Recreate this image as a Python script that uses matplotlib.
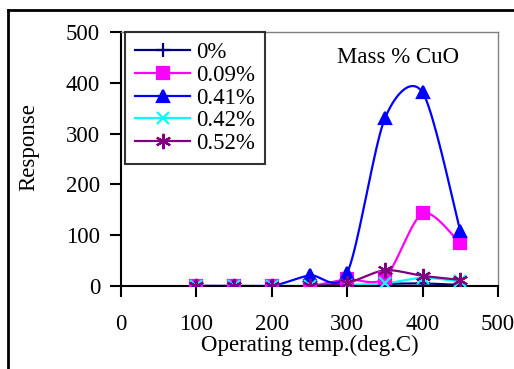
import numpy as np
import matplotlib
matplotlib.use("Agg")
import matplotlib.pyplot as plt
from matplotlib.lines import Line2D

# ── data ─────────────────────────────────────────────────
temps = [100, 150, 200, 250, 300, 350, 400, 450]
labels = ["0%", "0.09%", "0.41%", "0.42%", "0.52%"]
resp_0 = [0, 0, 0, 0, 0, 4, 5, 2]
resp_009 = [0, 0, 0, 0, 13, 16, 143, 84]
resp_041 = [0, 0, 0, 21, 26, 330, 381, 108]
resp_042 = [0, 0, 0, 0, 2, 5, 16, 9]
resp_052 = [0, 0, 0, 0, 6, 31, 20, 12]

series = [resp_0, resp_009, resp_041, resp_042, resp_052]
colors = ["#000080", "#FF00FF", "#0000FF", "#00FFFF", "#800080"]
markers = ["+", "s", "^", "x", (6, 2, 0)]
msizes = [10, 9, 9, 9, 11]


def smooth(x, y, n=20, k=7.0):
    # Excel-style smoothed line (Bezier through the points)
    x = np.asarray(x, float)
    y = np.asarray(y, float)
    px = np.concatenate([[x[0]], x, [x[-1]]])
    py = np.concatenate([[y[0]], y, [y[-1]]])
    xs, ys = [], []
    t = np.linspace(0, 1, n, endpoint=False)
    for i in range(1, len(px) - 2):
        p0, p1, p2, p3 = [np.array([px[j], py[j]]) for j in range(i - 1, i + 3)]
        c1 = p1 + (p2 - p0) / k
        c2 = p2 - (p3 - p1) / k
        b = ((1 - t) ** 3)[:, None] * p1 + (3 * (1 - t) ** 2 * t)[:, None] * c1 \
            + (3 * (1 - t) * t ** 2)[:, None] * c2 + (t ** 3)[:, None] * p2
        xs.append(b[:, 0])
        ys.append(b[:, 1])
    xs.append([x[-1]])
    ys.append([y[-1]])
    return np.concatenate(xs), np.concatenate(ys)


plt.rcParams["font.family"] = ["Liberation Serif", "DejaVu Serif"]
plt.rcParams["font.size"] = 16.5

fig = plt.figure(figsize=(5.14, 3.69), dpi=100)
ax = fig.add_axes([121 / 514, 83 / 369, 377 / 514, 254 / 369])

handles = []
for ys, c, m, ms, lab in zip(series, colors, markers, msizes, labels):
    sx, sy = smooth(temps, ys)
    ax.plot(sx, sy, color=c, lw=1.6, zorder=2)
    ax.plot(temps, ys, ls="none", marker=m, ms=ms, color=c, mec=c,
            mew=1.6, zorder=3)
    handles.append(Line2D([], [], color=c, lw=1.6, marker=m, ms=ms,
                          mec=c, mew=1.6, label=lab))

ax.set_xlim(0, 500)
ax.set_ylim(0, 500)
ax.set_xticks(range(0, 501, 100))
ax.set_yticks(range(0, 501, 100))
ax.tick_params(axis="x", direction="out", length=8, width=1.5, pad=12)
ax.tick_params(axis="y", direction="out", length=8, width=1.5, pad=7)
for s in ("left", "bottom"):
    ax.spines[s].set_linewidth(1.5)
    ax.spines[s].set_color("black")
for s in ("top", "right"):
    ax.spines[s].set_linewidth(1)
    ax.spines[s].set_color("#808080")

ax.set_xlabel("Operating temp.(deg.C)", labelpad=0)
ax.set_ylabel("Response")
ax.yaxis.set_label_coords(-0.217, 0.547)
ax.text(0.735, 0.9, "Mass % CuO", transform=ax.transAxes, ha="center",
        va="center")

leg = ax.legend(handles=handles, loc="upper left", bbox_to_anchor=(0.01, 1.0),
                frameon=True, fancybox=False, borderpad=0.45, labelspacing=0.07,
                handlelength=2.4, handletextpad=0.25, borderaxespad=0.0)
leg.get_frame().set_edgecolor("black")
leg.get_frame().set_linewidth(1.5)

# outer chart frame (top and left edges visible)
fig.add_artist(Line2D([8 / 514, 8 / 514], [0, 1 - 10 / 369], color="black",
                      lw=2, transform=fig.transFigure))
fig.add_artist(Line2D([8 / 514, 1], [1 - 10 / 369, 1 - 10 / 369],
                      color="black", lw=2, transform=fig.transFigure))

fig.savefig("out.png", dpi=100)
